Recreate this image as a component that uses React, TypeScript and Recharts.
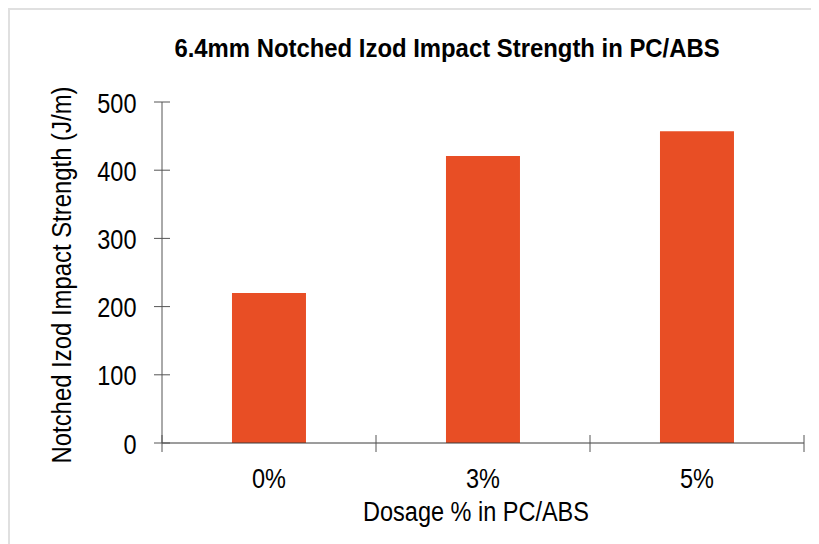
import { BarChart, Bar, XAxis, YAxis, Label } from 'recharts'

const categories = ['0%', '3%', '5%']
const strength = [220, 421, 457]
const yTicks = [0, 100, 200, 300, 400, 500]

const data = categories.map((dosage, i) => ({ dosage, strength: strength[i] }))

const FONT = '"Liberation Sans", Arial, sans-serif'
const FS = 27
const SX = 0.87 // squeeze text toward the narrow face of the original
const AXIS = '#3a3a3a'
const TICK = '#555'

function YTick(props: any) {
  const { x, y, payload } = props
  return (
    <g>
      <line x1={x - 8} x2={x + 8} y1={y} y2={y} stroke={TICK} />
      <text
        transform={`translate(${x - 25.5},${y + 1}) scale(${SX},1)`}
        textAnchor="end"
        dy="0.355em"
        fontSize={FS}
        fill="#000"
      >
        {payload.value}
      </text>
    </g>
  )
}

function XTick(props: any) {
  const { x, y, payload, index, visibleTicksCount, width } = props
  const half = payload.offset > 2 ? payload.offset : width / (2 * visibleTicksCount)
  const last = index === visibleTicksCount - 1
  return (
    <g>
      <line x1={x - half} x2={x - half} y1={y - 8} y2={y + 9} stroke={TICK} />
      {last && <line x1={x + half} x2={x + half} y1={y - 8} y2={y + 9} stroke={TICK} />}
      <text transform={`translate(${x},${y + 45}) scale(${SX},1)`} textAnchor="middle" fontSize={FS} fill="#000">
        {payload.value}
      </text>
    </g>
  )
}

function XTitle(props: any) {
  const { x, y, width } = props.viewBox
  return (
    <text transform={`translate(${x + width / 2 - 7},${y + 78}) scale(${SX},1)`} textAnchor="middle" fontSize={FS} fill="#000">
      Dosage % in PC/ABS
    </text>
  )
}

function YTitle(props: any) {
  const { y, height } = props.viewBox
  return (
    <text
      transform={`translate(53,${y + height / 2 + 2.5}) rotate(-90) scale(0.885,1)`}
      textAnchor="middle"
      dy="0.355em"
      fontSize={FS}
      fill="#000"
    >
      Notched Izod Impact Strength (J/m)
    </text>
  )
}

export default function App() {
  return (
    <div
      style={{
        position: 'relative',
        width: 811,
        height: 536,
        borderLeft: '2px solid #e0e0e0',
        borderTop: '2px solid #e0e0e0',
        boxSizing: 'border-box',
        background: '#fff',
        fontFamily: FONT,
        overflow: 'hidden',
      }}
    >
      <div
        style={{
          position: 'absolute',
          top: 26,
          left: 437,
          transform: 'translateX(-50%) scaleX(0.955)',
          whiteSpace: 'nowrap',
          fontSize: 25,
          lineHeight: 1,
          fontWeight: 'bold',
          color: '#000',
        }}
      >
        6.4mm Notched Izod Impact Strength in PC/ABS
      </div>
      <div style={{ position: 'absolute', left: -2, top: -2 }}>
        <BarChart
          width={811}
          height={536}
          data={data}
          margin={{ top: 94, right: 15, bottom: 0, left: 0 }}
          barCategoryGap="32.7%"
        >
          <XAxis
            dataKey="dosage"
            height={101}
            interval={0}
            tickSize={0}
            tickMargin={0}
            tickLine={false}
            axisLine={{ stroke: AXIS }}
            tick={<XTick />}
          >
            <Label content={<XTitle />} />
          </XAxis>
          <YAxis
            domain={[0, 500]}
            ticks={yTicks}
            width={154}
            interval={0}
            tickSize={0}
            tickMargin={0}
            tickLine={false}
            axisLine={{ stroke: TICK }}
            tick={<YTick />}
          >
            <Label content={<YTitle />} />
          </YAxis>
          <Bar dataKey="strength" fill="#e84e25" isAnimationActive={false} />
        </BarChart>
      </div>
    </div>
  )
}
